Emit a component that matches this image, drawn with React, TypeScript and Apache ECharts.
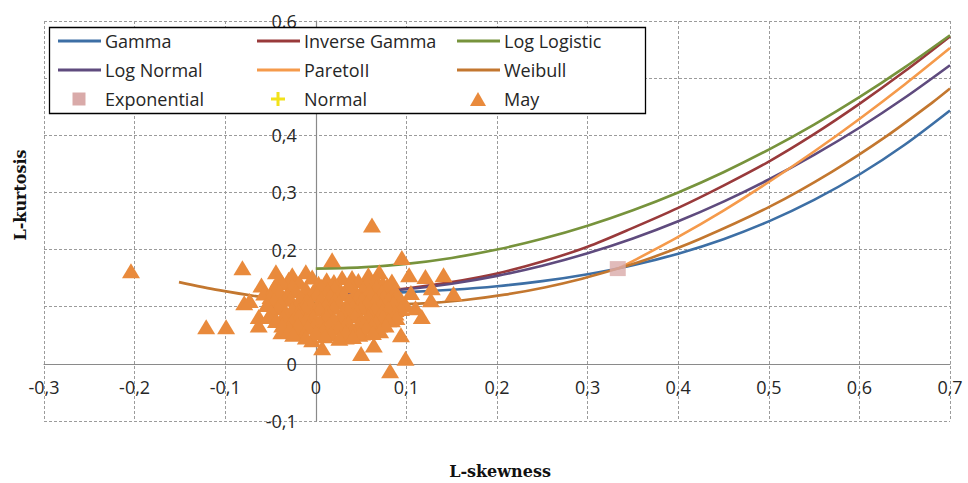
import React, { useEffect, useRef } from "react";
import * as echarts from "echarts";

// ---- data ----
const curveSkew = [0, 0.05, 0.1, 0.15, 0.2, 0.25, 0.3, 0.35, 0.4, 0.45, 0.5, 0.55, 0.6, 0.65, 0.7];
const gammaKurt = [0.1224, 0.1232, 0.1255, 0.1297, 0.1359, 0.1448, 0.1569, 0.1727, 0.1929, 0.2182, 0.2494, 0.2869, 0.3314, 0.3835, 0.4435];
const invGammaKurt = [0.1228, 0.125, 0.132, 0.143, 0.158, 0.179, 0.205, 0.238, 0.273, 0.312, 0.354, 0.402, 0.455, 0.512, 0.573];
const logLogisticKurt = [0.1667, 0.1688, 0.175, 0.1854, 0.2, 0.2188, 0.2417, 0.2688, 0.3, 0.3354, 0.375, 0.4188, 0.4667, 0.5188, 0.575];
const logNormalKurt = [0.1228, 0.1247, 0.1306, 0.1403, 0.154, 0.1717, 0.1935, 0.2194, 0.2495, 0.2839, 0.3226, 0.3657, 0.4132, 0.4656, 0.5226];
const paretoSkew = [0.3333, 0.35, 0.4, 0.45, 0.5, 0.55, 0.6, 0.65, 0.7];
const paretoKurt = [0.1667, 0.1799, 0.2222, 0.2683, 0.3182, 0.3716, 0.4286, 0.4889, 0.5526];
const weibullSkew = [-0.151, -0.107, -0.048, 0.009, 0.063, 0.114, 0.1625, 0.2086, 0.2524, 0.2939, 0.3333, 0.3706, 0.4232, 0.5016, 0.57, 0.6296, 0.6815, 0.7];
const weibullKurt = [0.143, 0.129, 0.1145, 0.1063, 0.1035, 0.1054, 0.1114, 0.1211, 0.1338, 0.1491, 0.1667, 0.1858, 0.2181, 0.2756, 0.3366, 0.3981, 0.4585, 0.4818];
const exponentialPoint = [0.3333, 0.1667];
const normalPoint = [0, 0.1226];
const mayPoints = [
  [-0.204, 0.163], [0.062, 0.243], [-0.081, 0.168], [-0.121, 0.065], [-0.099, 0.065], [-0.079, 0.107], [-0.073, 0.111],
  [-0.06, 0.138], [-0.063, 0.083], [-0.063, 0.068], [0.018, 0.182], [0.095, 0.186], [0.103, 0.156], [0.121, 0.153],
  [0.141, 0.156], [0.128, 0.133], [0.152, 0.123], [0.127, 0.112], [0.117, 0.083], [0.094, 0.051], [0.099, 0.01],
  [0.082, -0.012], [0.05, 0.018], [0.064, 0.033], [0.007, 0.028], [-0.044, 0.161], [-0.026, 0.156], [-0.011, 0.161],
  [-0.041, 0.147], [0.04, 0.151], [0.07, 0.161], [0.058, 0.156], [-0.057, 0.124], [-0.039, 0.121], [-0.038, 0.056],
  [-0.019, 0.054], [-0.004, 0.042], [0.033, 0.047], [0.051, 0.054], [0.07, 0.068], [0.084, 0.077], [0.092, 0.112],
  [0.081, 0.133], [0.11, 0.098], [0.105, 0.125], [0.088, 0.095],
  [-0.03, 0.148], [-0.004, 0.152], [0.012, 0.147], [0.029, 0.151], [0.047, 0.146], [0.066, 0.149], [0.084, 0.145],
  [-0.037, 0.142], [-0.018, 0.143], [0.003, 0.141], [0.02, 0.144], [0.038, 0.142], [0.057, 0.143], [0.074, 0.141],
  [-0.046, 0.134], [-0.026, 0.137], [-0.011, 0.132], [0.006, 0.136], [0.021, 0.133], [0.036, 0.137], [0.052, 0.131], [0.067, 0.135], [0.079, 0.138],
  [-0.04, 0.127], [-0.022, 0.128], [-0.003, 0.126], [0.013, 0.129], [0.028, 0.127], [0.044, 0.126], [0.059, 0.128], [0.073, 0.126], [0.087, 0.129],
  [-0.05, 0.118], [-0.031, 0.121], [-0.016, 0.117], [0.001, 0.122], [0.016, 0.119], [0.031, 0.123], [0.046, 0.117], [0.061, 0.121], [0.075, 0.118], [0.09, 0.122],
  [-0.046, 0.112], [-0.028, 0.113], [-0.01, 0.111], [0.006, 0.114], [0.021, 0.112], [0.037, 0.111], [0.051, 0.113], [0.066, 0.112], [0.08, 0.114], [0.094, 0.113],
  [-0.054, 0.104], [-0.039, 0.107], [-0.021, 0.102], [-0.006, 0.106], [0.011, 0.103], [0.026, 0.108], [0.041, 0.101], [0.056, 0.106], [0.071, 0.103], [0.086, 0.107], [0.099, 0.104],
  [-0.042, 0.098], [-0.026, 0.096], [-0.012, 0.098], [0.004, 0.097], [0.02, 0.099], [0.035, 0.096], [0.05, 0.098], [0.065, 0.097], [0.08, 0.098], [0.094, 0.097],
  [-0.049, 0.091], [-0.034, 0.088], [-0.019, 0.092], [-0.004, 0.087], [0.013, 0.091], [0.029, 0.089], [0.044, 0.093], [0.059, 0.088], [0.073, 0.091], [0.088, 0.089],
  [-0.052, 0.083], [-0.036, 0.082], [-0.019, 0.084], [-0.003, 0.082], [0.012, 0.083], [0.028, 0.081], [0.043, 0.084], [0.058, 0.082], [0.074, 0.083], [0.089, 0.081],
  [-0.044, 0.076], [-0.027, 0.073], [-0.011, 0.077], [0.004, 0.074], [0.02, 0.078], [0.036, 0.072], [0.051, 0.076], [0.066, 0.073], [0.08, 0.077],
  [-0.037, 0.068], [-0.02, 0.069], [-0.002, 0.067], [0.015, 0.069], [0.032, 0.067], [0.047, 0.069], [0.062, 0.067], [0.077, 0.068],
  [-0.029, 0.061], [-0.009, 0.064], [0.008, 0.059], [0.025, 0.063], [0.04, 0.06], [0.056, 0.064], [0.071, 0.058],
  [-0.025, 0.052], [0.0, 0.055], [0.017, 0.053], [0.033, 0.056], [0.048, 0.052], [0.063, 0.055],
  [-0.011, 0.047], [0.01, 0.049], [0.026, 0.045], [0.041, 0.048],
];

const seriesNames = ["Gamma", "Inverse Gamma", "Log Logistic", "Log Normal", "ParetoII", "Weibull", "Exponential", "Normal", "May"];
const seriesColors = ["#3d6fa5", "#993a3b", "#77933c", "#5f4b7e", "#f59a4b", "#c3772f", "#d9aaa9", "#f2e21a", "#e98a3c"];
const xAxisTitle = "L-skewness";
const yAxisTitle = "L-kurtosis";
const xMin = -0.3, xMax = 0.7, yMin = -0.1, yMax = 0.6, step = 0.1;

const FONT = "'Open Sans', sans-serif";
const TEXT = "#262626";

const GRID = { left: 44, right: 18, top: 21, bottom: 62 };
const W = 968, H = 483;

const zip = (xs: number[], ys: number[]) => xs.map((x, i) => [x, ys[i]]);
const fmt = (v: number) => String(Math.round(v * 10) / 10).replace(".", ",");
const CROSS = "path://M4,0 L6,0 L6,4 L10,4 L10,6 L6,6 L6,10 L4,10 L4,6 L0,6 L0,4 L4,4 Z";

function lineSeries(i: number, data: number[][]) {
  return {
    name: seriesNames[i],
    type: "line",
    data,
    smooth: 0.3,
    showSymbol: false,
    symbol: "none",
    lineStyle: { color: seriesColors[i], width: 2.6 },
    itemStyle: { color: seriesColors[i] },
    z: 2,
  };
}

function legendGraphics() {
  const g: any[] = [];
  g.push({
    type: "rect",
    shape: { x: 49.5, y: 27.5, width: 596, height: 86 },
    style: { fill: "#ffffff", stroke: "#000000", lineWidth: 1.3 },
    z: 100,
  });
  const colX = [58, 257, 457];
  const rowY = [41, 70, 99];
  for (let i = 0; i < 9; i++) {
    const c = i % 3;
    const r = Math.floor(i / 3);
    const x0 = colX[c];
    const y0 = rowY[r];
    const cx = x0 + 21;
    if (i < 6) {
      g.push({
        type: "line",
        shape: { x1: x0, y1: y0, x2: x0 + 43, y2: y0 },
        style: { stroke: seriesColors[i], lineWidth: 3 },
        z: 101,
      });
    } else if (i === 6) {
      g.push({
        type: "rect",
        shape: { x: cx - 6.5, y: y0 - 6.5, width: 13, height: 13 },
        style: { fill: seriesColors[i] },
        z: 101,
      });
    } else if (i === 7) {
      g.push({
        type: "polygon",
        shape: {
          points: [
            [cx - 1.5, y0 - 7], [cx + 1.5, y0 - 7], [cx + 1.5, y0 - 1.5], [cx + 7, y0 - 1.5], [cx + 7, y0 + 1.5],
            [cx + 1.5, y0 + 1.5], [cx + 1.5, y0 + 7], [cx - 1.5, y0 + 7], [cx - 1.5, y0 + 1.5], [cx - 7, y0 + 1.5],
            [cx - 7, y0 - 1.5], [cx - 1.5, y0 - 1.5],
          ],
        },
        style: { fill: seriesColors[i] },
        z: 101,
      });
    } else {
      g.push({
        type: "polygon",
        shape: { points: [[cx - 8, y0 + 7], [cx + 8, y0 + 7], [cx, y0 - 7]] },
        style: { fill: seriesColors[i] },
        z: 101,
      });
    }
    g.push({
      type: "text",
      x: x0 + 47,
      y: y0,
      style: {
        text: seriesNames[i],
        font: `18px ${FONT}`,
        fill: TEXT,
        textAlign: "left",
        textVerticalAlign: "middle",
        align: "left",
        verticalAlign: "middle",
      },
      z: 102,
    });
  }
  return g;
}

export default function App() {
  const ref = useRef<HTMLDivElement>(null);
  useEffect(() => {
    if (!ref.current) return;
    const chart = echarts.init(ref.current, null, { renderer: "svg" });
    const plotW = W - GRID.left - GRID.right;
    const plotH = H - GRID.top - GRID.bottom;
    // shift axes so they cross at zero, as in the reference
    const yAxisOffset = -((0 - xMin) / (xMax - xMin)) * plotW;
    const xAxisOffset = -((0 - yMin) / (yMax - yMin)) * plotH;
    const splitLine = { show: true, lineStyle: { color: "#9b9b9b", width: 1, type: [3, 2] as any } };
    const axisLine = { show: true, onZero: false, lineStyle: { color: "#8a8a8a", width: 1.2 } };
    chart.setOption({
      animation: false,
      backgroundColor: "#ffffff",
      grid: { ...GRID, containLabel: false, outerBoundsMode: "none" },
      xAxis: {
        type: "value",
        min: xMin,
        max: xMax,
        interval: step,
        position: "bottom",
        offset: xAxisOffset,
        axisLine,
        axisTick: { show: false },
        splitLine,
        axisLabel: { formatter: fmt, fontFamily: FONT, fontSize: 18, color: TEXT, margin: 14 },
      },
      yAxis: {
        type: "value",
        min: yMin,
        max: yMax,
        interval: step,
        position: "left",
        offset: yAxisOffset,
        axisLine,
        axisTick: { show: false },
        splitLine,
        axisLabel: { formatter: fmt, fontFamily: FONT, fontSize: 18, color: TEXT, margin: 19 },
      },
      series: [
        lineSeries(0, zip(curveSkew, gammaKurt)),
        lineSeries(1, zip(curveSkew, invGammaKurt)),
        lineSeries(2, zip(curveSkew, logLogisticKurt)),
        lineSeries(3, zip(curveSkew, logNormalKurt)),
        lineSeries(4, zip(paretoSkew, paretoKurt)),
        lineSeries(5, zip(weibullSkew, weibullKurt)),
        {
          name: seriesNames[6],
          type: "scatter",
          data: [exponentialPoint],
          symbol: "rect",
          symbolSize: [16, 15],
          itemStyle: { color: seriesColors[6] },
          z: 3,
        },
        {
          name: seriesNames[7],
          type: "scatter",
          data: [normalPoint],
          symbol: CROSS,
          symbolSize: 12,
          itemStyle: { color: seriesColors[7] },
          z: 3,
        },
        {
          name: seriesNames[8],
          type: "scatter",
          data: mayPoints,
          symbol: "triangle",
          symbolSize: [18, 15],
          itemStyle: { color: seriesColors[8], opacity: 1 },
          z: 4,
        },
      ],
      graphic: [
        ...legendGraphics(),
        {
          type: "text",
          x: 20,
          y: 195,
          rotation: Math.PI / 2,
          style: {
            text: yAxisTitle,
            font: "bold 16px 'DejaVu Serif', serif",
            fill: "#111",
            textAlign: "center",
            textVerticalAlign: "middle",
            align: "center",
            verticalAlign: "middle",
          },
        },
        {
          type: "text",
          x: 500,
          y: 471,
          style: {
            text: xAxisTitle,
            font: "bold 16px 'DejaVu Serif', serif",
            fill: "#111",
            textAlign: "center",
            textVerticalAlign: "middle",
            align: "center",
            verticalAlign: "middle",
          },
        },
      ],
    });
    return () => chart.dispose();
  }, []);
  return (
    <div
      ref={ref}
      style={{ position: "fixed", left: 0, top: 0, width: W, height: H, background: "#fff" }}
    />
  );
}
